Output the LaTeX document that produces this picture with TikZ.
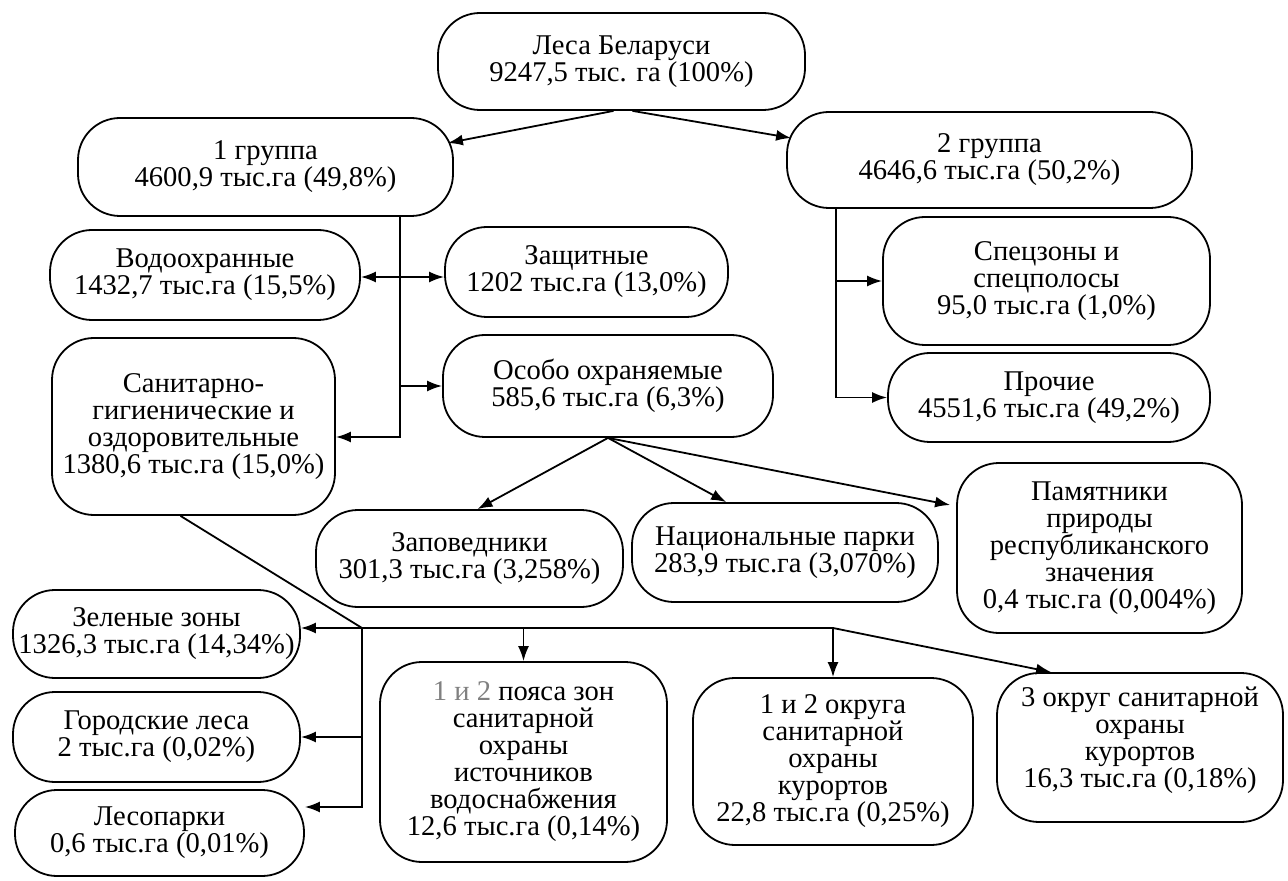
\documentclass[tikz,border=0pt]{standalone}
\usepackage{fontspec}
\setmainfont{Liberation Serif}
\usetikzlibrary{arrows.meta,calc}
\tikzset{
  box/.style={draw, line width=0.9pt, rounded corners=21pt, align=center, inner sep=1pt,
    font=\fontsize{14.3}{13.5}\selectfont},
  sz/.style 2 args={minimum width=#1*0.5pt, minimum height=#2*0.5pt},
  arr/.style={-{Latex[length=7.5pt,width=5.5pt]}, line width=0.9pt},
  ln/.style={line width=0.9pt}
}
\begin{document}
\begin{tikzpicture}[x=0.5pt,y=-0.5pt]
\fill[white] (0,0) rectangle (1288,881);
\useasboundingbox (0,0) rectangle (1288,881);

\node[box, sz={367}{97}] (lesa) at (621.5,61.5) {Леса Беларуси\\9247,5 тыс. га (100\%)};
\node[box, sz={375}{98}] (gr1) at (265.5,167) {1 группа\\4600,9 тыс.га (49,8\%)};
\node[box, sz={405}{96}] (gr2) at (989.5,160) {2 группа\\4646,6 тыс.га (50,2\%)};
\node[box, sz={310}{90}] (vodo) at (205,275) {Водоохранные\\1432,7 тыс.га (15,5\%)};
\node[box, sz={283}{90}] (zasch) at (586.5,272) {Защитные\\1202 тыс.га (13,0\%)};
\node[box, sz={330}{102}] (osobo) at (608,386) {Особо охраняемые\\585,6 тыс.га (6,3\%)};
\node[box, sz={283}{177}] (sanit) at (193.5,426.5) {Санитарно-\\гигиенические и\\оздоровительные\\1380,6 тыс.га (15,0\%)};
\node[box, sz={327}{128}] (spec) at (1046.5,281) {Спецзоны и\\спецполосы\\95,0 тыс.га (1,0\%)};
\node[box, sz={322}{89}] (proch) at (1049,397.5) {Прочие\\4551,6 тыс.га (49,2\%)};
\node[box, sz={307}{97}] (zapov) at (469.5,558.5) {Заповедники\\301,3 тыс.га (3,258\%)};
\node[box, sz={306}{99}] (nacp) at (785,552.5) {Национальные парки\\283,9 тыс.га (3,070\%)};
\node[box, sz={285}{170}] (pamyat) at (1099.5,548) {Памятники\\природы\\республиканского\\значения\\0,4 тыс.га (0,004\%)};
\node[box, sz={287}{88}] (zelen) at (156.5,634) {Зеленые зоны\\1326,3 тыс.га (14,34\%)};
\node[box, sz={287}{90}] (gorod) at (156.5,737) {Городские леса\\2 тыс.га (0,02\%)};
\node[box, sz={289}{86}] (lesop) at (159.5,833) {Лесопарки\\0,6 тыс.га (0,01\%)};
\node[box, sz={287}{200}] (poyas) at (523.5,762) {\textcolor{gray}{1 и 2} пояса зон\\санитарной\\охраны\\источников\\водоснабжения\\12,6 тыс.га (0,14\%)};
\node[box, sz={280}{167}] (okr12) at (833,761.5) {1 и 2 округа\\санитарной\\охраны\\курортов\\22,8 тыс.га (0,25\%)};
\node[box, sz={286}{149}] (okr3) at (1140,747.5) {3 округ санитарной\\охраны\\курортов\\16,3 тыс.га (0,18\%)\\[-3.5pt]};

% top
\draw[arr] ($(lesa.south)+(-8,0)$) -- ($(gr1.east)+(-6,-24)$);
\draw[arr] ($(lesa.south)+(11,0)$) -- ($(gr2.west)+(5,-22)$);

% group 1 trunk
\coordinate (t1top) at (400,216);
\coordinate (j1) at (400,277);
\draw[arr] (t1top) |- ($(sanit.east)+(0,10.5)$);
\draw[arr] (t1top |- osobo.west) -- (osobo.west);
\draw[arr] (j1) -- (j1 -| vodo.east);
\draw[arr] (j1) -- (j1 -| zasch.west);

% group 2 trunk
\coordinate (t2top) at (836,208);
\draw[arr] (t2top) |- (proch.west);
\draw[arr] (t2top |- spec.west) -- (spec.west);

% особо охраняемые
\draw[arr] (osobo.south) -- ($(zapov.north)+(8,0)$);
\draw[arr] (osobo.south) -- ($(nacp.north west)+(95,0)$);
\draw[arr] (osobo.south) -- ($(pamyat.west)+(-6,-43)$);

% санитарно-гигиенические
\coordinate (bus) at (362,628);
\coordinate (busB) at (362,807);
\draw[ln] ($(sanit.south)+(-13,0)$) -- (bus);
\draw[arr] (bus) -- (bus -| zelen.east);
\draw[arr] (bus) -- (busB) -- (busB -| lesop.east);
\draw[arr] (bus |- gorod.east) -- (gorod.east);
\coordinate (busR) at (bus -| okr12.north);
\draw[ln] (bus) -- (busR);
\draw[arr] (bus -| poyas.north) -- (poyas.north);
\draw[arr] (busR) -- (okr12.north);
\draw[arr] (busR) -- ($(okr3.north west)+(55,0)$);
\end{tikzpicture}
\end{document}
